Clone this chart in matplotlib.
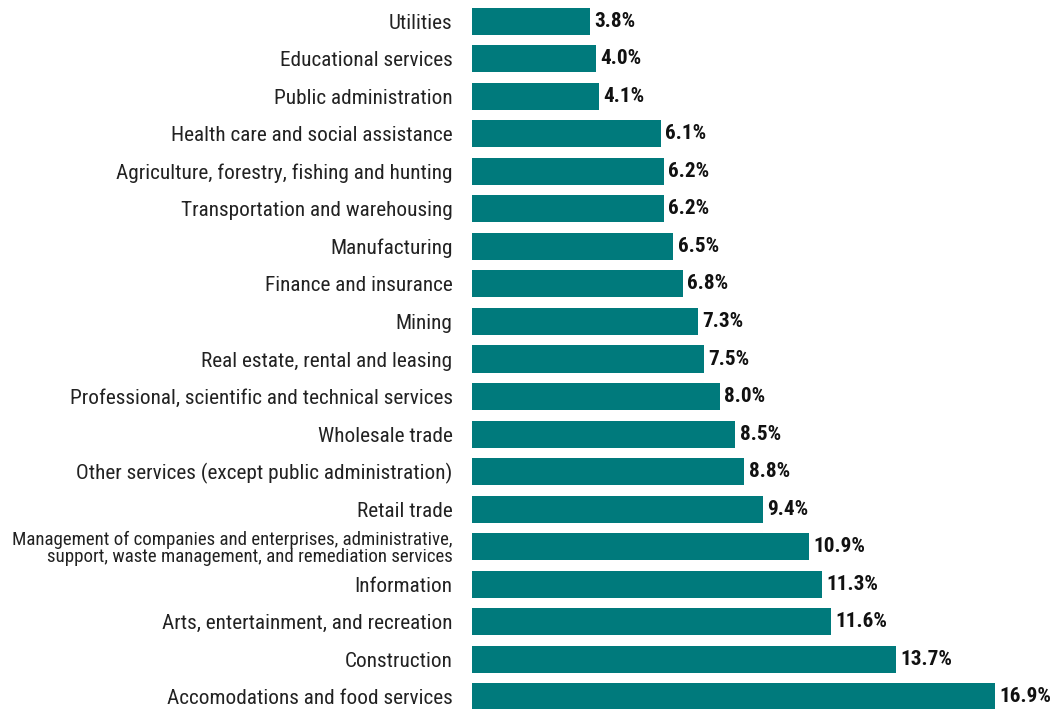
import matplotlib
matplotlib.use("Agg")
import matplotlib.pyplot as plt

industries = [
    "Utilities",
    "Educational services",
    "Public administration",
    "Health care and social assistance",
    "Agriculture, forestry, fishing and hunting",
    "Transportation and warehousing",
    "Manufacturing",
    "Finance and insurance",
    "Mining",
    "Real estate, rental and leasing",
    "Professional, scientific and technical services",
    "Wholesale trade",
    "Other services (except public administration)",
    "Retail trade",
    "Management of companies and enterprises, administrative,\nsupport, waste management, and remediation services",
    "Information",
    "Arts, entertainment, and recreation",
    "Construction",
    "Accomodations and food services",
]
rates = [3.8, 4.0, 4.1, 6.1, 6.2, 6.2, 6.5, 6.8, 7.3, 7.5, 8.0, 8.5, 8.8, 9.4,
         10.9, 11.3, 11.6, 13.7, 16.9]

plt.rcParams['font.family'] = ['Roboto Condensed', 'Archivo Narrow', 'DejaVu Sans']

fig = plt.figure(figsize=(10.51, 7.09), dpi=100)
ax = fig.add_axes([472/1051, 0, 1 - 472/1051, 1])

ypos = list(range(len(industries)))
ax.barh(ypos, rates, height=0.72, color="#007A7C")

for y, v in zip(ypos, rates):
    ax.text(v + 0.14, y, f"{v:.1f}%", va="center", ha="left",
            fontsize=15.3, fontweight="bold", color="#111111")

ax.set_yticks(ypos)
ax.set_yticklabels(industries, fontsize=15.3, color="#222222")
for lab in ax.get_yticklabels():
    if "\n" in lab.get_text():
        lab.set_fontsize(13.6)
        lab.set_multialignment("right")
        lab.set_linespacing(0.95)
ax.tick_params(axis="y", length=0, pad=14)
ax.set_xticks([])
ax.set_xlim(0, 18.7)
ax.set_ylim(18.333, -0.573)
for s in ax.spines.values():
    s.set_visible(False)

fig.savefig("out.png", dpi=100)
